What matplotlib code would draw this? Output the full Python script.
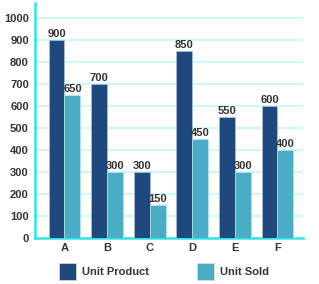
import numpy as np
from matplotlib import pyplot as plt
from matplotlib.patches import Rectangle

categories = ['A', 'B', 'C', 'D', 'E', 'F']
unit_product = [900, 700, 300, 850, 550, 600]
unit_sold = [650, 300, 150, 450, 300, 400]
yticks = [0, 100, 200, 300, 400, 500, 600, 700, 800, 900, 1000]

dark = '#1f497d'
light = '#4bacc6'
text_col = '#333333'
fs = 8

plt.rcParams['font.family'] = ['Liberation Sans', 'DejaVu Sans']

fig = plt.figure(figsize=(3.19, 2.84), dpi=100)
ax = fig.add_axes([0.11, 0.163, 0.84, 0.826])

x = np.arange(len(categories))
w = 0.375
b1 = ax.bar(x - w / 2, unit_product, w, color=dark, edgecolor='#a9c4de', linewidth=0.5, zorder=3)
b2 = ax.bar(x + w / 2, unit_sold, w, color=light, edgecolor='#bde4ee', linewidth=0.5, zorder=3)

for bars, vals in ((b1, unit_product), (b2, unit_sold)):
    for r, v in zip(bars, vals):
        ax.text(r.get_x() + r.get_width() / 2, v + 4, str(v), ha='center', va='bottom',
                fontsize=fs, fontweight='bold', color=text_col, zorder=4)

ax.set_xlim(-0.69, 5.6)
ax.set_ylim(0, 1068)
ax.set_yticks(yticks)
ax.set_yticklabels([str(t) for t in yticks], fontsize=fs, fontweight='bold', color=text_col)
ax.set_xticks(x)
ax.set_xticklabels(categories, fontsize=fs, fontweight='bold', color=text_col)
ax.tick_params(axis='y', length=0, pad=4.5)
ax.tick_params(axis='x', length=0, pad=3.5)
ax.yaxis.grid(True, color='#c4f7f7', linewidth=1.2, zorder=0)
ax.set_axisbelow(True)

for s in ('top', 'right'):
    ax.spines[s].set_visible(False)
for s in ('left', 'bottom'):
    ax.spines[s].set_color('#2ee6e6')
    ax.spines[s].set_linewidth(1.8)

# legend
def legend_item(x0, color, label):
    fig.patches.append(Rectangle((x0 / 319, 1 - 280 / 284), 17 / 319, 17 / 284,
                                 transform=fig.transFigure, facecolor=color,
                                 edgecolor='#dddddd', linewidth=0.5))
    fig.text((x0 + 23) / 319, 1 - 272 / 284, label, fontsize=fs, fontweight='bold',
             color=text_col, va='center', ha='left')

legend_item(59, dark, 'Unit Product')
legend_item(197, light, 'Unit Sold')

fig.savefig('out.png', dpi=100)
